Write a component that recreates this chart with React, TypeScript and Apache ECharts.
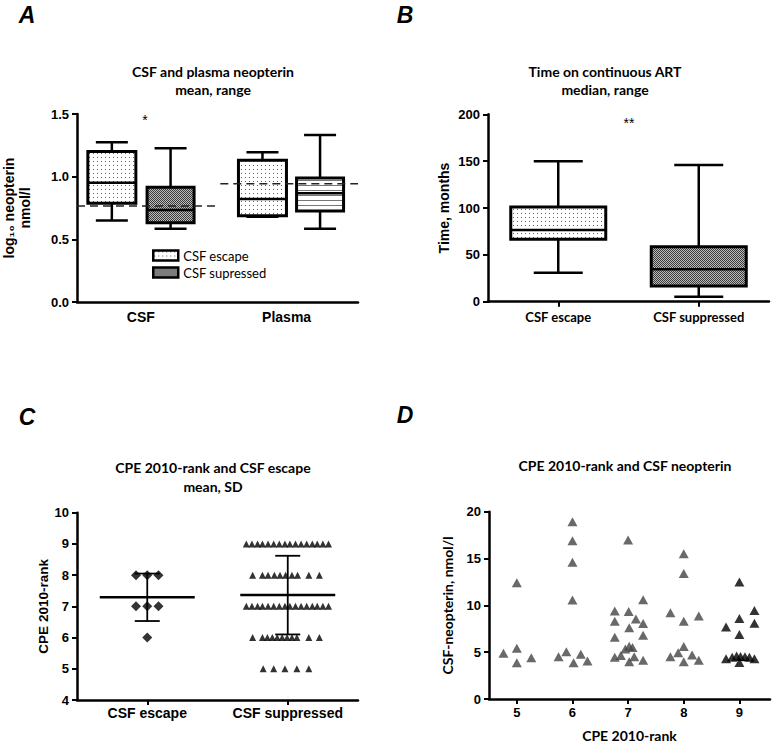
import React, { useEffect, useRef } from "react";
import * as echarts from "echarts";

// ---------- Panel A: CSF and plasma neopterin (log10 nmol/l) ----------
const aGroupNames = ["CSF", "Plasma"];
const aGroupLabelPos = [2.27, 7.46];
const aEscapeX = [1.24, 6.6];
const aSuppX = [3.33, 8.65];
// [min, q1, median, q3, max]
const aEscape = [
  [0.65, 0.788, 0.952, 1.2, 1.274],
  [0.68, 0.689, 0.822, 1.131, 1.195],
];
const aSupp = [
  [0.585, 0.633, 0.734, 0.915, 1.227],
  [0.585, 0.726, 0.868, 0.99, 1.333],
];
const aRefCSF = [[0, 0.766], [4.93, 0.766]];
const aRefPlasma = [[5.1, 0.944], [10, 0.944]];

// ---------- Panel B: time on continuous ART (months) ----------
const bCats = ["CSF escape", "CSF suppressed"];
const bBoxes = [
  [31, 66.6, 76.5, 101, 150],
  [5.3, 16.8, 34.6, 58.7, 146],
];

// ---------- Panel C: CPE 2010-rank by group ----------
const cCats = ["CSF escape", "CSF suppressed"];
const cCatPos = [1, 3];
const cEscape = [
  [0.84, 8], [1.0, 8], [1.16, 8],
  [0.84, 7], [1.0, 7], [1.16, 7],
  [1.0, 6],
];
const cSuppRow9 = [2.41, 2.49, 2.57, 2.64, 2.72, 2.8, 2.88, 2.96, 3.03, 3.11, 3.19, 3.27, 3.35, 3.42, 3.5, 3.58];
const cSuppRow8 = [2.5, 2.64, 2.72, 2.81, 2.89, 2.97, 3.06, 3.14, 3.3, 3.45];
const cSuppRow7 = [2.41, 2.49, 2.57, 2.64, 2.72, 2.8, 2.88, 2.96, 3.03, 3.11, 3.19, 3.27, 3.35, 3.42, 3.5, 3.58];
const cSuppRow6 = [2.5, 2.64, 2.71, 2.78, 2.85, 2.92, 2.99, 3.06, 3.13, 3.3, 3.45];
const cSuppRow5 = [2.65, 2.8, 2.96, 3.13, 3.3];
// [x, mean, mean-SD, mean+SD]
const cStats = [
  [1, 7.29, 6.53, 8.05],
  [3, 7.36, 6.1, 8.62],
];

// ---------- Panel D: CPE 2010-rank vs CSF neopterin ----------
const dRankTicks = [5, 6, 7, 8, 9];
const dGrey = [
  [4.76, 4.88], [5.0, 5.41], [5.0, 3.88], [5.26, 4.41], [5.0, 12.42],
  [6.0, 18.93], [6.0, 16.9], [6.0, 14.6], [6.0, 10.57], [5.75, 4.52], [5.89, 5.05], [6.02, 3.88], [6.15, 4.77], [6.27, 4.06],
  [7.0, 16.98], [6.76, 9.4], [7.01, 9.35], [7.27, 10.6], [6.76, 8.3], [7.14, 8.55], [7.27, 8.05], [7.02, 7.62], [6.76, 6.6],
  [7.27, 6.8], [7.02, 5.62], [6.95, 5.35], [7.08, 5.5], [6.87, 4.65], [6.76, 4.45], [7.11, 4.52], [7.02, 3.98], [7.27, 4.15],
  [8.0, 15.5], [8.0, 13.4], [7.76, 9.2], [8.27, 8.85], [8.0, 8.3], [8.0, 5.6], [7.9, 4.95], [7.76, 4.5], [8.15, 4.7], [8.0, 3.98], [8.27, 4.15],
];
const dBlack = [
  [9.0, 12.5], [9.27, 9.45], [9.0, 8.6], [9.27, 8.1], [8.76, 7.7], [9.0, 6.9],
  [8.76, 4.3], [8.87, 4.45], [8.95, 4.6], [9.02, 4.55], [9.1, 4.5], [9.18, 4.45], [9.27, 4.3], [9.0, 3.9],
];

const ARIAL = "Liberation Sans, Arial, sans-serif";
const CAL = "Lato, Open Sans, sans-serif";

function tile(w: number, h: number, draw: (ctx: CanvasRenderingContext2D) => void) {
  const c = document.createElement("canvas");
  c.width = w;
  c.height = h;
  const ctx = c.getContext("2d")!;
  ctx.fillStyle = "#fff";
  ctx.fillRect(0, 0, w, h);
  draw(ctx);
  return { image: c.toDataURL(), repeat: "repeat", imageWidth: w, imageHeight: h };
}

function boxRender(fills: any[], boxW: number, capW: number) {
  return (params: any, api: any) => {
    const x = api.value(0);
    const p = [1, 2, 3, 4, 5].map((i) => api.coord([x, api.value(i)]));
    const cx = p[0][0];
    const line = (x1: number, y1: number, x2: number, y2: number, w: number) => ({
      type: "line",
      shape: { x1, y1, x2, y2 },
      style: { stroke: "#000", lineWidth: w },
    });
    return {
      type: "group",
      children: [
        line(cx, p[4][1], cx, p[0][1], 2.5),
        line(cx - capW / 2, p[4][1], cx + capW / 2, p[4][1], 2.5),
        line(cx - capW / 2, p[0][1], cx + capW / 2, p[0][1], 2.5),
        {
          type: "rect",
          shape: { x: cx - boxW / 2, y: p[3][1], width: boxW, height: p[1][1] - p[3][1] },
          style: { fill: fills[params.dataIndex], stroke: "#000", lineWidth: 3 },
        },
        line(cx - boxW / 2, p[2][1], cx + boxW / 2, p[2][1], 2.5),
      ],
    };
  };
}

function statRender(meanW: number, capW: number) {
  return (params: any, api: any) => {
    const x = api.value(0);
    const m = api.coord([x, api.value(1)]);
    const lo = api.coord([x, api.value(2)]);
    const hi = api.coord([x, api.value(3)]);
    const cx = m[0];
    const line = (x1: number, y1: number, x2: number, y2: number, w: number) => ({
      type: "line",
      shape: { x1, y1, x2, y2 },
      style: { stroke: "#000", lineWidth: w },
    });
    return {
      type: "group",
      children: [
        line(cx, hi[1], cx, lo[1], 1.8),
        line(cx - capW / 2, hi[1], cx + capW / 2, hi[1], 1.8),
        line(cx - capW / 2, lo[1], cx + capW / 2, lo[1], 1.8),
        line(cx - meanW / 2, m[1], cx + meanW / 2, m[1], 2.5),
      ],
    };
  };
}

const axisLine = { show: true, lineStyle: { color: "#000", width: 2.5 } };
const axisTick = { show: true, length: 5, lineStyle: { color: "#000", width: 2 } };
const tickLabel = { color: "#000", fontFamily: ARIAL, fontWeight: "bold", fontSize: 13 };

function txt(x: number, y: number, text: string, opts: any = {}) {
  return {
    type: "text",
    x,
    y,
    rotation: opts.rotation || 0,
    style: {
      text,
      fill: "#000",
      fontFamily: opts.fontFamily || CAL,
      fontSize: opts.fontSize || 14,
      fontWeight: opts.fontWeight || "bold",
      fontStyle: opts.fontStyle || "normal",
      align: "center",
      verticalAlign: "middle",
      textAlign: "center",
      textVerticalAlign: "middle",
    },
  };
}

export default function App() {
  const ref = useRef<HTMLDivElement>(null);
  useEffect(() => {
    if (!ref.current) return;
    const chart = echarts.init(ref.current, null, { renderer: "svg" });

    const dots = tile(4, 4, (ctx) => {
      ctx.fillStyle = "#5e5e5e";
      ctx.fillRect(1, 1, 1, 1);
    });
    const checker = tile(2, 2, (ctx) => {
      ctx.fillStyle = "#3a3a3a";
      ctx.fillRect(0, 0, 1, 1);
      ctx.fillRect(1, 1, 1, 1);
      ctx.fillStyle = "#bdbdbd";
      ctx.fillRect(1, 0, 1, 1);
      ctx.fillRect(0, 1, 1, 1);
    });
    const stripes = tile(1, 5, (ctx) => {
      ctx.fillStyle = "#777";
      ctx.fillRect(0, 0, 1, 1);
    });

    const nameOf = (vals: number[], names: string[]) => (v: number) => {
      const i = vals.findIndex((p) => Math.abs(p - v) < 1e-6);
      return i >= 0 ? names[i] : "";
    };

    const option: any = {
      animation: false,
      backgroundColor: "#fff",
      grid: [
        { left: 76, top: 114, width: 282, height: 188 },
        { left: 488, top: 114.3, width: 281, height: 187.4 },
        { left: 77, top: 512.7, width: 281, height: 187.3 },
        { left: 489, top: 511.7, width: 281, height: 187.3 },
      ],
      xAxis: [
        {
          gridIndex: 0, type: "value", min: 0, max: 10,
          splitLine: { show: false }, axisLine, axisTick: { show: false },
          axisLabel: { ...tickLabel, fontSize: 14, margin: 8, customValues: aGroupLabelPos, formatter: nameOf(aGroupLabelPos, aGroupNames) },
        },
        {
          gridIndex: 1, type: "category", data: bCats,
          axisLine, axisTick: { ...axisTick, alignWithLabel: true },
          axisLabel: { color: "#000", fontFamily: CAL, fontWeight: "bold", fontSize: 13, margin: 9 },
        },
        {
          gridIndex: 2, type: "value", min: 0, max: 4,
          splitLine: { show: false }, axisLine,
          axisTick: { ...axisTick, customValues: cCatPos },
          axisLabel: { ...tickLabel, fontSize: 14, margin: 6, customValues: cCatPos, formatter: nameOf(cCatPos, cCats) },
        },
        {
          gridIndex: 3, type: "value", min: 4.5, max: 9.55,
          splitLine: { show: false }, axisLine,
          axisTick: { ...axisTick, customValues: dRankTicks },
          axisLabel: { ...tickLabel, margin: 7, customValues: dRankTicks, formatter: (v: number) => String(Math.round(v)) },
          name: "CPE 2010-rank", nameLocation: "middle", nameGap: 29,
          nameTextStyle: { color: "#000", fontFamily: CAL, fontWeight: "bold", fontSize: 14 },
        },
      ],
      yAxis: [
        {
          gridIndex: 0, type: "value", min: 0, max: 1.5, interval: 0.5,
          splitLine: { show: false }, axisLine, axisTick,
          axisLabel: { ...tickLabel, margin: 8, formatter: (v: number) => v.toFixed(1) },
          name: "log\u2081\u2080 neopterin\nnmol/l", nameLocation: "middle", nameGap: 44,
          nameTextStyle: { color: "#000", fontFamily: ARIAL, fontWeight: "bold", fontSize: 14, lineHeight: 16 },
        },
        {
          gridIndex: 1, type: "value", min: 0, max: 200, interval: 50,
          splitLine: { show: false }, axisLine, axisTick,
          axisLabel: { ...tickLabel, margin: 8 },
          name: "Time, months", nameLocation: "middle", nameGap: 37,
          nameTextStyle: { color: "#000", fontFamily: ARIAL, fontWeight: "bold", fontSize: 14 },
        },
        {
          gridIndex: 2, type: "value", min: 4, max: 10, interval: 1,
          splitLine: { show: false }, axisLine, axisTick,
          axisLabel: { ...tickLabel, margin: 8 },
          name: "CPE 2010-rank", nameLocation: "middle", nameGap: 27,
          nameTextStyle: { color: "#000", fontFamily: ARIAL, fontWeight: "bold", fontSize: 13.5 },
        },
        {
          gridIndex: 3, type: "value", min: 0, max: 20, interval: 5,
          splitLine: { show: false }, axisLine, axisTick,
          axisLabel: { ...tickLabel, margin: 8 },
          name: "CSF-neopterin, nmol/l", nameLocation: "middle", nameGap: 35,
          nameTextStyle: { color: "#000", fontFamily: CAL, fontWeight: "bold", fontSize: 14 },
        },
      ],
      legend: {
        orient: "vertical",
        left: 152,
        top: 249,
        padding: 0,
        itemWidth: 25,
        itemHeight: 10,
        itemGap: 4,
        selectedMode: false,
        textStyle: { color: "#000", fontFamily: CAL, fontSize: 13 },
        data: [
          { name: "CSF escape", icon: "rect", itemStyle: { color: dots, borderColor: "#000", borderWidth: 2.5 } },
          { name: "CSF supressed", icon: "rect", itemStyle: { color: checker, borderColor: "#000", borderWidth: 2.5 } },
        ],
      },
      series: [
        {
          name: "CSF escape", type: "custom", xAxisIndex: 0, yAxisIndex: 0,
          itemStyle: { color: dots },
          renderItem: boxRender([dots, dots], 48, 32),
          encode: { x: 0, y: [1, 2, 3, 4, 5] },
          data: aEscapeX.map((x, i) => [x, ...aEscape[i]]),
          z: 2,
        },
        {
          name: "CSF supressed", type: "custom", xAxisIndex: 0, yAxisIndex: 0,
          itemStyle: { color: checker },
          renderItem: boxRender([checker, stripes], 47, 32),
          encode: { x: 0, y: [1, 2, 3, 4, 5] },
          data: aSuppX.map((x, i) => [x, ...aSupp[i]]),
          z: 2,
        },
        {
          name: "refCSF", type: "line", xAxisIndex: 0, yAxisIndex: 0, symbol: "none", z: 5,
          lineStyle: { color: "#222", width: 1.6, type: [8, 5] }, data: aRefCSF,
        },
        {
          name: "refPlasma", type: "line", xAxisIndex: 0, yAxisIndex: 0, symbol: "none", z: 5,
          lineStyle: { color: "#222", width: 1.6, type: [8, 5] }, data: aRefPlasma,
        },
        {
          name: "time", type: "custom", xAxisIndex: 1, yAxisIndex: 1,
          renderItem: boxRender([dots, checker], 95, 49),
          encode: { x: 0, y: [1, 2, 3, 4, 5] },
          data: bBoxes.map((b, i) => [i, ...b]),
        },
        {
          name: "escapeRank", type: "scatter", xAxisIndex: 2, yAxisIndex: 2,
          symbol: "diamond", symbolSize: 10, itemStyle: { color: "#000" }, data: cEscape,
        },
        {
          name: "suppRank", type: "scatter", xAxisIndex: 2, yAxisIndex: 2,
          symbol: "triangle", symbolSize: [7, 7], itemStyle: { color: "#000" },
          data: [
            ...cSuppRow9.map((x) => [x, 9]),
            ...cSuppRow8.map((x) => [x, 8]),
            ...cSuppRow7.map((x) => [x, 7]),
            ...cSuppRow6.map((x) => [x, 6]),
            ...cSuppRow5.map((x) => [x, 5]),
          ],
        },
        {
          name: "rankStats", type: "custom", xAxisIndex: 2, yAxisIndex: 2, z: 5,
          renderItem: statRender(95, 25),
          encode: { x: 0, y: [1, 2, 3] },
          data: cStats,
        },
        {
          name: "neoGrey", type: "scatter", xAxisIndex: 3, yAxisIndex: 3,
          symbol: "triangle", symbolSize: [10, 9], itemStyle: { color: "#444" }, data: dGrey,
        },
        {
          name: "neoBlack", type: "scatter", xAxisIndex: 3, yAxisIndex: 3,
          symbol: "triangle", symbolSize: [10, 9], itemStyle: { color: "#000" }, data: dBlack,
        },
      ],
      graphic: [
        txt(27, 15, "A", { fontFamily: ARIAL, fontSize: 23, fontStyle: "italic" }),
        txt(405, 15, "B", { fontFamily: ARIAL, fontSize: 23, fontStyle: "italic" }),
        txt(27, 417, "C", { fontFamily: ARIAL, fontSize: 23, fontStyle: "italic" }),
        txt(405, 415, "D", { fontFamily: ARIAL, fontSize: 23, fontStyle: "italic" }),
        txt(213, 71, "CSF and plasma neopterin"),
        txt(213, 89, "mean, range"),
        txt(605, 71, "Time on continuous ART"),
        txt(605, 89, "median, range"),
        txt(213, 467, "CPE 2010-rank and CSF escape"),
        txt(213, 486, "mean, SD"),
        txt(625, 465, "CPE 2010-rank and CSF neopterin"),
        txt(145, 120, "*", { fontFamily: ARIAL, fontWeight: "normal", fontSize: 14 }),
        txt(629, 123, "**", { fontFamily: ARIAL, fontWeight: "normal", fontSize: 14 }),
      ],
    };
    chart.setOption(option);
    return () => chart.dispose();
  }, []);
  return (
    <div
      ref={ref}
      style={{ position: "fixed", left: 0, top: 0, width: 775, height: 746, background: "#fff" }}
    />
  );
}
